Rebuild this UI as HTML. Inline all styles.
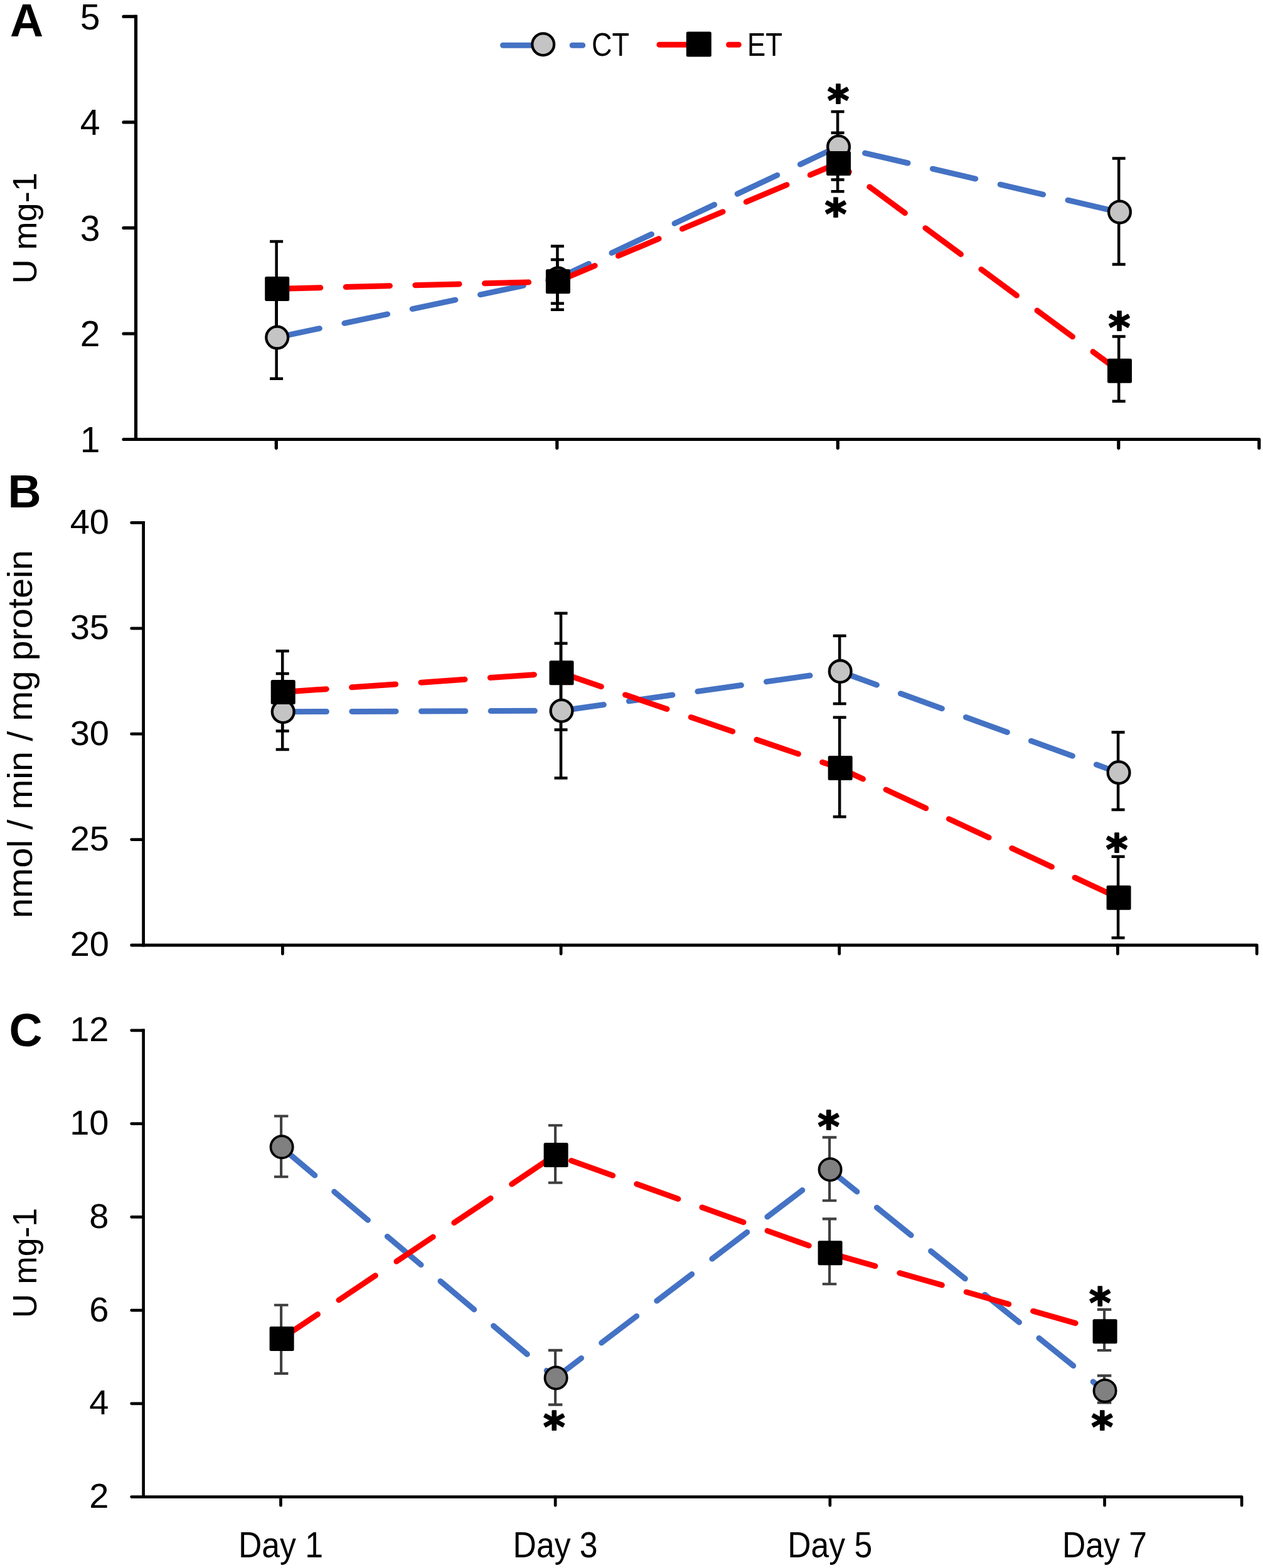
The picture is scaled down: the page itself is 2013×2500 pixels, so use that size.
<!DOCTYPE html><html><head><meta charset="utf-8"><style>html,body{margin:0;padding:0;background:#fff;}svg{display:block}.lab{font-family:"Liberation Sans",sans-serif;fill:#000}.let{font-family:"Liberation Sans",sans-serif;font-weight:bold;fill:#000}.ast{font-family:"DejaVu Sans",sans-serif;font-weight:bold;fill:#000;stroke:#000;stroke-width:2.2;stroke-linejoin:round;text-anchor:middle}</style></head><body>
<svg width="2013" height="2500" viewBox="0 0 2013 2500">
<rect width="2013" height="2500" fill="#fff"/>
<path d="M216.5 26.399999999999977 V700.5" stroke="#000" stroke-width="5.2" fill="none" stroke-linecap="square"/>
<path d="M197 26.399999999999977H216.5M197 194.92499999999995H216.5M197 363.45H216.5M197 531.975H216.5" stroke="#000" stroke-width="5.2" fill="none" stroke-linecap="round"/>
<path d="M197 700.5H2006.8V714.3" stroke="#000" stroke-width="5.2" fill="none" stroke-linecap="round" stroke-linejoin="round"/>
<path d="M440.3 700.5V714.3M887.8 700.5V714.3M1335.3 700.5V714.3M1782.8 700.5V714.3" stroke="#000" stroke-width="5.2" fill="none" stroke-linecap="round"/>
<text x="159.5" y="46.8" class="lab" text-anchor="end" font-size="57">5</text>
<text x="159.5" y="215.3" class="lab" text-anchor="end" font-size="57">4</text>
<text x="159.5" y="383.9" class="lab" text-anchor="end" font-size="57">3</text>
<text x="159.5" y="552.4" class="lab" text-anchor="end" font-size="57">2</text>
<text x="159.5" y="720.9" class="lab" text-anchor="end" font-size="57">1</text>
<path d="M440.6 538.1 L888.4 444.0 L1335.1 234.0 L1783.2 338.1" stroke="#4472C4" stroke-width="9.0" fill="none" stroke-linecap="round" stroke-linejoin="round" stroke-dasharray="70.2 40.45" stroke-dashoffset="0"/>
<path d="M440.6 460.5 L888.4 448.8 L1335.1 260.5 L1783.2 591.2" stroke="#FF0000" stroke-width="9.0" fill="none" stroke-linecap="round" stroke-linejoin="round" stroke-dasharray="70.2 40.45" stroke-dashoffset="0"/>
<path d="M440.65 472.4V603.8M430.1 472.4h21M430.1 603.8h21M888.4 392.5V493.7M877.9 392.5h21M877.9 493.7h21M1335.1 177.9V286.4M1324.6 177.9h21M1324.6 286.4h21M1783.2 252.5V421.6M1772.7 252.5h21M1772.7 421.6h21" stroke="#000" stroke-width="4.5" fill="none" stroke-linecap="butt"/>
<path d="M440.65 385.0V537.0M430.1 385.0h21M430.1 537.0h21M888.4 413.9V483.7M877.9 413.9h21M877.9 483.7h21M1335.1 211.8V305.3M1324.6 211.8h21M1324.6 305.3h21M1783.2 536.4V639.7M1772.7 536.4h21M1772.7 639.7h21" stroke="#000" stroke-width="4.5" fill="none" stroke-linecap="butt"/>
<circle cx="441.7" cy="538.1" r="17.4" fill="#C4C4C4" stroke="#000" stroke-width="4.3"/>
<circle cx="889.4" cy="444.0" r="17.4" fill="#C4C4C4" stroke="#000" stroke-width="4.3"/>
<circle cx="1336.6" cy="234.0" r="17.4" fill="#C4C4C4" stroke="#000" stroke-width="4.3"/>
<circle cx="1784.5" cy="338.1" r="17.4" fill="#C4C4C4" stroke="#000" stroke-width="4.3"/>
<rect x="422.2" y="441.0" width="39" height="39" rx="2.5" fill="#000"/>
<rect x="869.9" y="429.3" width="39" height="39" rx="2.5" fill="#000"/>
<rect x="1317.1" y="241.0" width="39" height="39" rx="2.5" fill="#000"/>
<rect x="1765.0" y="571.7" width="39" height="39" rx="2.5" fill="#000"/>
<text x="1336.0" y="183.2" class="ast" font-size="66">*</text>
<text x="1332.0" y="363.9" class="ast" font-size="66">*</text>
<text x="1784.0" y="544.9" class="ast" font-size="66">*</text>
<path d="M801.5 72.3H928.7" stroke="#4472C4" stroke-width="9.0" fill="none" stroke-linecap="round" stroke-dasharray="70.2 40.45"/>
<circle cx="865.7" cy="70.7" r="17.4" fill="#C4C4C4" stroke="#000" stroke-width="4.3"/>
<path d="M1050.9 71.3H1177.3" stroke="#FF0000" stroke-width="9.0" fill="none" stroke-linecap="round" stroke-dasharray="70.2 40.45"/>
<rect x="1093.8" y="50.6" width="40" height="40" rx="2.5" fill="#000"/>
<text x="943" y="88.8" class="lab" font-size="52" textLength="60" lengthAdjust="spacingAndGlyphs">CT</text>
<text x="1191" y="88.8" class="lab" font-size="52" textLength="56" lengthAdjust="spacingAndGlyphs">ET</text>
<text x="16" y="57.6" class="let" font-size="73.5">A</text>
<text transform="translate(57.5 452.6) rotate(-90)" x="0" y="0" class="lab" font-size="53" textLength="177.4" lengthAdjust="spacingAndGlyphs">U mg-1</text>
<path d="M228.6 833.4 V1507.0" stroke="#000" stroke-width="4.8" fill="none" stroke-linecap="square"/>
<path d="M209.6 833.4H228.6M209.6 1001.8H228.6M209.6 1170.2H228.6M209.6 1338.6H228.6" stroke="#000" stroke-width="4.8" fill="none" stroke-linecap="round"/>
<path d="M209.6 1507.0H2003.2V1520.8" stroke="#000" stroke-width="4.8" fill="none" stroke-linecap="round" stroke-linejoin="round"/>
<path d="M450.4 1507.0V1520.8M894.1 1507.0V1520.8M1337.7 1507.0V1520.8M1781.4 1507.0V1520.8" stroke="#000" stroke-width="4.8" fill="none" stroke-linecap="round"/>
<text x="174" y="850.8" class="lab" text-anchor="end" font-size="56">40</text>
<text x="174" y="1019.2" class="lab" text-anchor="end" font-size="56">35</text>
<text x="174" y="1187.6" class="lab" text-anchor="end" font-size="56">30</text>
<text x="174" y="1356.0" class="lab" text-anchor="end" font-size="56">25</text>
<text x="174" y="1524.4" class="lab" text-anchor="end" font-size="56">20</text>
<path d="M450.2 1134.8 L894.0 1133.2 L1338.2 1070.4 L1782.1 1231.7" stroke="#4472C4" stroke-width="9.0" fill="none" stroke-linecap="round" stroke-linejoin="round" stroke-dasharray="70.2 40.45" stroke-dashoffset="0"/>
<path d="M450.2 1103.5 L894.0 1072.7 L1338.2 1224.6 L1782.1 1431.3" stroke="#FF0000" stroke-width="9.0" fill="none" stroke-linecap="round" stroke-linejoin="round" stroke-dasharray="70.2 40.45" stroke-dashoffset="0"/>
<path d="M450.2 1073.9V1194.9M439.7 1073.9h21M439.7 1194.9h21M894.0 1025.7V1240.4M883.5 1025.7h21M883.5 1240.4h21M1338.2 1013.7V1121.9M1327.7 1013.7h21M1327.7 1121.9h21M1782.1 1167.5V1291.0M1771.6 1167.5h21M1771.6 1291.0h21" stroke="#000" stroke-width="4.5" fill="none" stroke-linecap="butt"/>
<path d="M450.2 1038.1V1165.4M439.7 1038.1h21M439.7 1165.4h21M894.0 977.8V1163.4M883.5 977.8h21M883.5 1163.4h21M1338.2 1143.8V1302.3M1327.7 1143.8h21M1327.7 1302.3h21M1782.1 1365.7V1495.2M1771.6 1365.7h21M1771.6 1495.2h21" stroke="#000" stroke-width="4.5" fill="none" stroke-linecap="butt"/>
<circle cx="451.2" cy="1134.8" r="17.4" fill="#C4C4C4" stroke="#000" stroke-width="4.3"/>
<circle cx="895.0" cy="1133.2" r="17.4" fill="#C4C4C4" stroke="#000" stroke-width="4.3"/>
<circle cx="1339.2" cy="1070.4" r="17.4" fill="#C4C4C4" stroke="#000" stroke-width="4.3"/>
<circle cx="1783.1" cy="1231.7" r="17.4" fill="#C4C4C4" stroke="#000" stroke-width="4.3"/>
<rect x="431.7" y="1084.0" width="39" height="39" rx="2.5" fill="#000"/>
<rect x="875.5" y="1053.2" width="39" height="39" rx="2.5" fill="#000"/>
<rect x="1319.7" y="1205.1" width="39" height="39" rx="2.5" fill="#000"/>
<rect x="1763.6" y="1411.8" width="39" height="39" rx="2.5" fill="#000"/>
<text x="1780.1" y="1377.4" class="ast" font-size="66">*</text>
<text x="12.5" y="808.8" class="let" font-size="73.5">B</text>
<text transform="translate(50.8 1464) rotate(-90)" x="0" y="0" class="lab" font-size="56" textLength="587" lengthAdjust="spacingAndGlyphs">nmol / min / mg protein</text>
<path d="M228.6 1642.8 V2386.6" stroke="#000" stroke-width="4.7" fill="none" stroke-linecap="square"/>
<path d="M209.6 1642.8H228.6M209.6 1791.56H228.6M209.6 1940.32H228.6M209.6 2089.08H228.6M209.6 2237.84H228.6" stroke="#000" stroke-width="4.7" fill="none" stroke-linecap="round"/>
<path d="M209.6 2386.6H1979.1V2400.2" stroke="#000" stroke-width="4.7" fill="none" stroke-linecap="round" stroke-linejoin="round"/>
<path d="M447.45 2386.6V2400.2M885.15 2386.6V2400.2M1322.85 2386.6V2400.2M1760.55 2386.6V2400.2" stroke="#000" stroke-width="4.7" fill="none" stroke-linecap="round"/>
<text x="173.5" y="1660.2" class="lab" text-anchor="end" font-size="56">12</text>
<text x="173.5" y="1809.0" class="lab" text-anchor="end" font-size="56">10</text>
<text x="173.5" y="1957.8" class="lab" text-anchor="end" font-size="56">8</text>
<text x="173.5" y="2106.5" class="lab" text-anchor="end" font-size="56">6</text>
<text x="173.5" y="2255.3" class="lab" text-anchor="end" font-size="56">4</text>
<text x="173.5" y="2404.0" class="lab" text-anchor="end" font-size="56">2</text>
<path d="M448.1 1828.8 L885.1 2197.0 L1322.1 1864.7 L1760.1 2217.4" stroke="#4472C4" stroke-width="9.0" fill="none" stroke-linecap="round" stroke-linejoin="round" stroke-dasharray="70.2 40.45" stroke-dashoffset="0"/>
<path d="M448.1 2134.5 L885.1 1841.4 L1322.1 1997.8 L1760.1 2122.8" stroke="#FF0000" stroke-width="9.0" fill="none" stroke-linecap="round" stroke-linejoin="round" stroke-dasharray="70.2 40.45" stroke-dashoffset="0"/>
<path d="M448.1 1779.5V1876.2M436.9 1779.5h22.5M436.9 1876.2h22.5M885.1 2152.9V2239.6M873.9 2152.9h22.5M873.9 2239.6h22.5M1322.1 1813.4V1914.3M1310.8 1813.4h22.5M1310.8 1914.3h22.5M1760.1 2193.4V2236.5M1748.8 2193.4h22.5M1748.8 2236.5h22.5" stroke="#3F3F3F" stroke-width="4.1" fill="none" stroke-linecap="butt"/>
<path d="M448.1 2080.8V2189.9M436.9 2080.8h22.5M436.9 2189.9h22.5M885.1 1794.3V1885.8M873.9 1794.3h22.5M873.9 1885.8h22.5M1322.1 1943.4V2047.3M1310.8 1943.4h22.5M1310.8 2047.3h22.5M1760.1 2087.9V2153.0M1748.8 2087.9h22.5M1748.8 2153.0h22.5" stroke="#3F3F3F" stroke-width="4.1" fill="none" stroke-linecap="butt"/>
<circle cx="449.1" cy="1828.8" r="17.6" fill="#808080" stroke="#000" stroke-width="3.8"/>
<circle cx="886.1" cy="2197.0" r="17.6" fill="#808080" stroke="#000" stroke-width="3.8"/>
<circle cx="1323.1" cy="1864.7" r="17.6" fill="#808080" stroke="#000" stroke-width="3.8"/>
<circle cx="1761.1" cy="2217.4" r="17.6" fill="#808080" stroke="#000" stroke-width="3.8"/>
<rect x="429.6" y="2115.0" width="39" height="39" rx="2.5" fill="#000"/>
<rect x="866.6" y="1821.9" width="39" height="39" rx="2.5" fill="#000"/>
<rect x="1303.6" y="1978.3" width="39" height="39" rx="2.5" fill="#000"/>
<rect x="1741.6" y="2103.3" width="39" height="39" rx="2.5" fill="#000"/>
<text x="883.3" y="2297.8" class="ast" font-size="66">*</text>
<text x="1320.8" y="1818.6" class="ast" font-size="66">*</text>
<text x="1753.2" y="2100.1" class="ast" font-size="66">*</text>
<text x="1756.7" y="2298.0" class="ast" font-size="66">*</text>
<text x="14.5" y="1668" class="let" font-size="73.5">C</text>
<text transform="translate(57.5 2101.4) rotate(-90)" x="0" y="0" class="lab" font-size="53" textLength="175.5" lengthAdjust="spacingAndGlyphs">U mg-1</text>
<text x="379.9" y="2482.8" class="lab" font-size="56.5" textLength="135" lengthAdjust="spacingAndGlyphs">Day 1</text>
<text x="817.6" y="2482.8" class="lab" font-size="56.5" textLength="135" lengthAdjust="spacingAndGlyphs">Day 3</text>
<text x="1255.3" y="2482.8" class="lab" font-size="56.5" textLength="135" lengthAdjust="spacingAndGlyphs">Day 5</text>
<text x="1693.0" y="2482.8" class="lab" font-size="56.5" textLength="135" lengthAdjust="spacingAndGlyphs">Day 7</text>
</svg></body></html>
